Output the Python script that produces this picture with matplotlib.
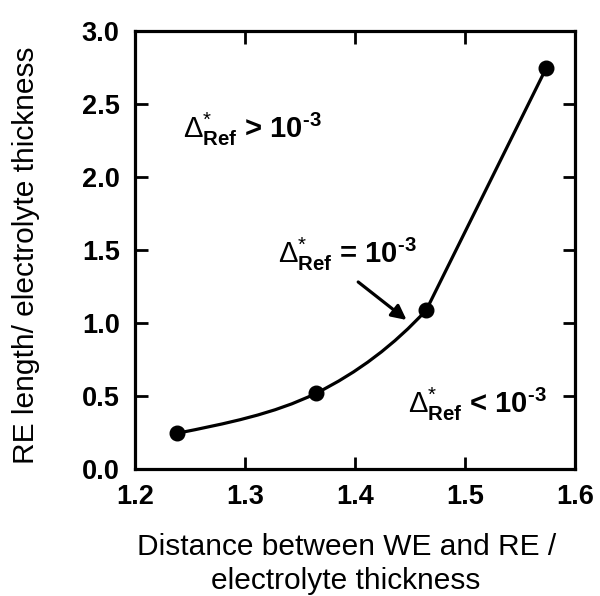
import numpy as np
import matplotlib
matplotlib.use("Agg")
import matplotlib.pyplot as plt
from matplotlib.path import Path
from matplotlib.patches import PathPatch

plt.rcParams["font.family"] = ["Liberation Sans", "DejaVu Sans"]
plt.rcParams["mathtext.fontset"] = "custom"
plt.rcParams["mathtext.rm"] = "Liberation Sans"
plt.rcParams["mathtext.bf"] = "Liberation Sans:bold"
plt.rcParams["mathtext.it"] = "Liberation Sans:italic"

# distance WE-RE / thickness vs RE length / thickness
dist = [1.238, 1.3645, 1.465, 1.574]
length = [0.244, 0.518, 1.089, 2.744]

x_ticks = [1.2, 1.3, 1.4, 1.5, 1.6]
y_ticks = [0.0, 0.5, 1.0, 1.5, 2.0, 2.5, 3.0]

fig = plt.figure(figsize=(6.0, 5.96), dpi=100)
ax = fig.add_axes([0.225, 0.2131, 0.733, 0.7354])

# smooth segment through the first three points, straight to the last
p = np.column_stack([dist, length])
mid = (p[2] - p[0]) / 2
t0 = ((p[1] - p[0]) + (2 * (p[1] - p[0]) - mid)) / 2
tang = [t0, mid, 2 * (p[2] - p[1]) - mid]
verts = [tuple(p[0])]
codes = [Path.MOVETO]
for i in range(2):
    c1 = p[i] + tang[i] / 3
    c2 = p[i + 1] - tang[i + 1] / 3
    verts += [tuple(c1), tuple(c2), tuple(p[i + 1])]
    codes += [Path.CURVE4] * 3
verts.append(tuple(p[3]))
codes.append(Path.LINETO)
ax.add_patch(PathPatch(Path(verts, codes), fill=False, lw=2.3, color="black",
                       capstyle="round", joinstyle="round"))
ax.plot(dist, length, "o", color="black", ms=10.5)

ax.set_xlim(1.2, 1.6)
ax.set_ylim(0, 3.0)
ax.set_xticks(x_ticks)
ax.set_yticks(y_ticks)
ax.set_xticklabels([f"{v:.1f}" for v in x_ticks], fontweight="bold")
ax.set_yticklabels([f"{v:.1f}" for v in y_ticks], fontweight="bold")
ax.tick_params(direction="in", length=9, width=2, labelsize=19.5,
               top=True, right=True, pad=11)
for s in ax.spines.values():
    s.set_linewidth(2.3)

ax.set_xlabel("Distance between WE and RE /\nelectrolyte thickness",
              fontsize=21.5, linespacing=1.3)
ax.xaxis.set_label_coords(0.48, -0.145)
ax.set_ylabel("RE length/ electrolyte thickness", fontsize=21.5)
ax.yaxis.set_label_coords(-0.217, 0.488)

kw = dict(fontsize=21, fontweight="bold", ha="left", va="baseline")
ax.text(1.2436, 2.267, "$\\Delta^{*}_{\\mathbf{Ref}}$ > 10$^{\\mathbf{\u20103}}$", **kw)
ax.text(1.330, 1.411, "$\\Delta^{*}_{\\mathbf{Ref}}$ = 10$^{\\mathbf{\u20103}}$", **kw)
ax.text(1.448, 0.384, "$\\Delta^{*}_{\\mathbf{Ref}}$ < 10$^{\\mathbf{\u20103}}$", **kw)

ax.annotate("", xy=(1.447, 1.02), xytext=(1.403, 1.28),
            arrowprops=dict(arrowstyle="-|>", lw=2.3, color="black",
                            mutation_scale=22, shrinkA=0, shrinkB=0))

fig.savefig("out.png", dpi=100)
